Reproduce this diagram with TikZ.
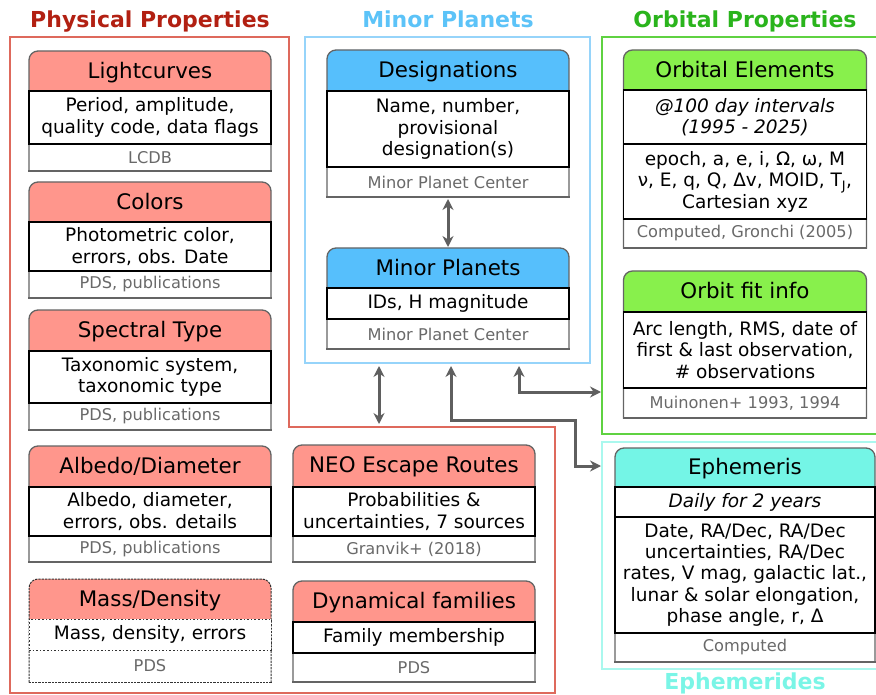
\documentclass[tikz,border=0pt]{standalone}
\usepackage{fontspec}
\setmainfont{DejaVu Sans}
\usetikzlibrary{positioning,backgrounds,arrows.meta}

\definecolor{physred}{RGB}{178,32,18}
\definecolor{physframe}{RGB}{222,105,92}
\definecolor{physfill}{RGB}{255,150,140}
\definecolor{mpblue}{RGB}{92,195,248}
\definecolor{mpframe}{RGB}{150,212,250}
\definecolor{mpfill}{RGB}{86,191,252}
\definecolor{orbgreen}{RGB}{42,180,28}
\definecolor{orbframe}{RGB}{95,210,65}
\definecolor{orbfill}{RGB}{136,240,76}
\definecolor{ephcyan}{RGB}{122,245,230}
\definecolor{ephframe}{RGB}{170,248,238}
\definecolor{ephfill}{RGB}{116,245,230}
\definecolor{srcgray}{RGB}{105,105,105}
\definecolor{linegray}{RGB}{100,100,100}
\definecolor{arrowgray}{RGB}{95,95,95}

\tikzset{
  hd/.style={minimum width=242pt, minimum height=#1, inner sep=0pt, outer sep=0pt,
    text depth=2pt, font=\fontsize{21.4}{24}\selectfont},
  bd/.style={draw=black, line width=1.6pt, fill=white, minimum width=242pt, minimum height=#1,
    inner sep=1pt, outer sep=0pt, align=center, font=\fontsize{18.5}{21.5}\selectfont},
  sr/.style={minimum width=242pt, minimum height=#1, inner sep=0pt, outer sep=0pt,
    text=srcgray, font=\fontsize{16.2}{18}\selectfont},
  boxline/.style={draw=linegray, line width=1.3pt, line cap=rect},
  dots/.style={dotted, line width=1pt, draw=black!80},
  title/.style={anchor=base, font=\fontsize{22}{24}\selectfont\bfseries},
  frame/.style={line width=1.2pt},
  link/.style={draw=arrowgray, line width=3pt,
    {Stealth[length=11pt,width=11pt]}-{Stealth[length=11pt,width=11pt]}}
}

% header fill and rounded outline of one box
\newcommand\boxdeco[4][]{%
  \begin{scope}[on background layer]
    \fill[#4, rounded corners=9pt] (#2.south west) -- (#2.north west) -- (#2.north east) -- (#2.south east);
    \draw[boxline, rounded corners=9pt, #1] (#3.south west) -- (#2.north west) -- (#2.north east) -- (#3.south east);
    \draw[boxline, #1] (#3.south west) -- (#3.south east);
  \end{scope}}

\begin{document}
\begin{tikzpicture}[x=1pt, y=-1pt, line join=miter]
\useasboundingbox (0,0) rectangle (876,695);

% group frames
\draw[frame, physframe] (10,37) -- (289,37) -- (289,427) -- (555,427) -- (555,693) -- (10,693) -- cycle;
\draw[frame, mpframe] (305,37) rectangle (590,363);
\draw[frame, orbframe] (602,37) rectangle (880,434);
\draw[frame, ephframe] (602,442) rectangle (880,669);

\node[title, text=physred] (tphys) at (150,28) {Physical Properties};
\node[title, text=mpblue] (tmp) at (448,28) {Minor Planets};
\node[title, text=orbgreen] (torb) at (745,28) {Orbital Properties};
\node[title, text=ephcyan] (teph) at (745,689) {Ephemerides};

% physical properties
\node[hd=40pt, anchor=north] (lc) at (150,51) {Lightcurves};
\node[bd=53pt, below=0pt of lc] (lcb) {Period, amplitude,\\quality code, data flags};
\node[sr=27pt, below=0pt of lcb] (lcs) {LCDB};
\boxdeco{lc}{lcs}{physfill}

\node[hd=40pt, anchor=north] (col) at (150,182) {Colors};
\node[bd=49pt, below=0pt of col] (colb) {Photometric color,\\errors, obs. Date};
\node[sr=27pt, below=0pt of colb] (cols) {PDS, publications};
\boxdeco{col}{cols}{physfill}

\node[hd=41pt, anchor=north] (spt) at (150,310) {Spectral Type};
\node[bd=52pt, below=0pt of spt] (sptb) {Taxonomic system,\\taxonomic type};
\node[sr=27pt, below=0pt of sptb] (spts) {PDS, publications};
\boxdeco{spt}{spts}{physfill}

\node[hd=41pt, anchor=north] (alb) at (150,446) {Albedo/Diameter};
\node[bd=49pt, below=0pt of alb] (albb) {Albedo, diameter,\\errors, obs. details};
\node[sr=26pt, below=0pt of albb] (albs) {PDS, publications};
\boxdeco{alb}{albs}{physfill}

\node[hd=40pt, anchor=north] (mass) at (150,579) {Mass/Density};
\node[bd=31pt, dots, below=0pt of mass] (massb) {Mass, density, errors};
\node[sr=32pt, below=0pt of massb] (mass-s) {PDS};
\boxdeco[dots]{mass}{mass-s}{physfill}

\node[hd=42pt, anchor=north] (neo) at (414,445) {NEO Escape Routes};
\node[bd=49pt, below=0pt of neo] (neob) {Probabilities \&\\uncertainties, 7 sources};
\node[sr=26pt, below=0pt of neob] (neos) {Granvik+ (2018)};
\boxdeco{neo}{neos}{physfill}

\node[hd=41pt, anchor=north] (dyn) at (414,581) {Dynamical families};
\node[bd=31pt, below=0pt of dyn] (dynb) {Family membership};
\node[sr=29pt, below=0pt of dynb] (dyns) {PDS};
\boxdeco{dyn}{dyns}{physfill}

% minor planets
\node[hd=41pt, anchor=north] (des) at (448,50) {Designations};
\node[bd=76pt, below=0pt of des] (desb) {Name, number,\\provisional\\designation(s)};
\node[sr=30pt, below=0pt of desb] (dess) {Minor Planet Center};
\boxdeco{des}{dess}{mpfill}

\node[hd=40pt, anchor=north] (mp) at (448,248) {Minor Planets};
\node[bd=31pt, below=0pt of mp] (mpb) {IDs, H magnitude};
\node[sr=30pt, below=0pt of mpb] (mps) {Minor Planet Center};
\boxdeco{mp}{mps}{mpfill}

% orbital properties
\node[hd=40pt, minimum width=243pt, anchor=north] (oe) at (745,50) {Orbital Elements};
\node[bd=54pt, minimum width=243pt, below=0pt of oe, font=\fontsize{18.5}{21.5}\selectfont\itshape] (oei) {@100 day intervals\\(1995 - 2025)};
\node[bd=75pt, minimum width=243pt, below=0pt of oei] (oeb) {epoch, a, e, i, Ω, ω, M\\ν, E, q, Q, Δv, MOID, T\textsubscript{J},\\Cartesian xyz};
\node[sr=29pt, minimum width=243pt, below=0pt of oeb] (oes) {Computed, Gronchi (2005)};
\boxdeco{oe}{oes}{orbfill}

\node[hd=41pt, minimum width=243pt, anchor=north] (ofi) at (745,271) {Orbit fit info};
\node[bd=76pt, minimum width=243pt, below=0pt of ofi] (ofib) {Arc length, RMS, date of\\first \& last observation,\\\# observations};
\node[sr=30pt, minimum width=243pt, below=0pt of ofib] (ofis) {Muinonen+ 1993, 1994};
\boxdeco{ofi}{ofis}{orbfill}

% ephemerides
\node[hd=39pt, minimum width=260pt, anchor=north] (eph) at (745,448) {Ephemeris};
\node[bd=30pt, minimum width=260pt, below=0pt of eph, font=\fontsize{18.5}{21.5}\selectfont\itshape] (ephi) {Daily for 2 years};
\node[bd=116pt, minimum width=260pt, below=0pt of ephi, font=\fontsize{18.5}{21.3}\selectfont] (ephb) {Date, RA/Dec, RA/Dec\\uncertainties, RA/Dec\\rates, V mag, galactic lat.,\\lunar \& solar elongation,\\phase angle, r, Δ};
\node[sr=29pt, minimum width=260pt, below=0pt of ephb] (ephs) {Computed};
\boxdeco{eph}{ephs}{ephfill}

% links
\coordinate (mpbot1) at (379,366);
\coordinate (physstep) at (379,424);
\coordinate (mpbot2) at (451,366);
\coordinate (mpbot3) at (519,366);
\coordinate (bend) at (575,420);
\coordinate (orbside) at (601,392);
\coordinate (ephside) at (601,466);

\draw[link] ([yshift=-2pt]dess.south) -- ([yshift=1pt]mp.north -| dess.south);
\draw[link] (mpbot1) -- (physstep);
\draw[link] (mpbot2) |- (bend) |- (ephside);
\draw[link] (mpbot3) |- (orbside);
\end{tikzpicture}
\end{document}
